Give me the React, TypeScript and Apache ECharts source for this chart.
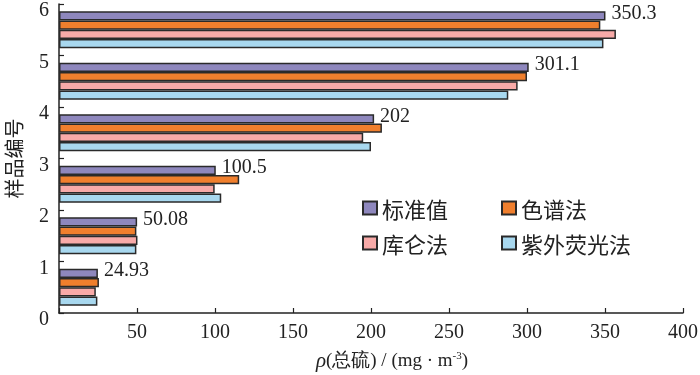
import React, { useEffect, useRef } from "react";
import * as echarts from "echarts";

const categories = ["1", "2", "3", "4", "5", "6"];
const seriesNames = ["标准值", "色谱法", "库仑法", "紫外荧光法"];
const standardValues = [24.93, 50.08, 100.5, 202, 301.1, 350.3];
const chromatographyValues = [25.6, 49.6, 115.5, 207, 300, 347];
const coulometricValues = [23.6, 50.3, 99.8, 195, 294, 357];
const uvFluorescenceValues = [24.6, 49.6, 104, 200, 288, 349];
const standardLabels = ["24.93", "50.08", "100.5", "202", "301.1", "350.3"];
const xTicks = [0, 50, 100, 150, 200, 250, 300, 350, 400];
const yTicks = [0, 1, 2, 3, 4, 5, 6];

const colors = ["#8e87bd", "#f07f2d", "#f8aaa8", "#a8d8ef"];
const allValues = [standardValues, chromatographyValues, coulometricValues, uvFluorescenceValues];

export default function App() {
  const ref = useRef<HTMLDivElement>(null);
  useEffect(() => {
    if (!ref.current) return;
    const chart = echarts.init(ref.current, undefined, { renderer: "svg" });
    const serif = "'Liberation Serif', 'Times New Roman', serif";
    const cjk = "'Noto Sans CJK SC', sans-serif";
    const legendBase = {
      orient: "horizontal",
      itemWidth: 14,
      itemHeight: 13,
      itemGap: 53,
      icon: "rect",
      textStyle: { fontFamily: cjk, fontSize: 22, color: "#222" },
    };
    chart.setOption({
      animation: false,
      grid: { left: 59, right: 17, top: 4, bottom: 62, containLabel: false, outerBoundsMode: "none" },
      legend: [
        { ...legendBase, data: seriesNames.slice(0, 2), left: 357, top: 192 },
        { ...legendBase, data: seriesNames.slice(2, 4), left: 357, top: 227 },
      ],
      xAxis: {
        type: "value",
        min: xTicks[0],
        max: xTicks[xTicks.length - 1],
        interval: 50,
        axisLine: { show: true, lineStyle: { color: "#222", width: 1.5 } },
        axisTick: { show: true, inside: true, length: 5, lineStyle: { color: "#222", width: 1.2 } },
        splitLine: { show: false },
        axisLabel: {
          fontFamily: serif,
          fontSize: 20,
          color: "#222",
          margin: 8,
          formatter: (v: number) => (v === 0 ? "" : String(v)),
        },
        name: "{i|ρ}(总硫) / (mg · m{sup|-3})",
        nameLocation: "middle",
        nameGap: 36,
        nameTextStyle: {
          fontFamily: serif,
          fontSize: 19,
          color: "#222",
          padding: [0, 0, 0, 42],
          rich: {
            i: { fontFamily: serif, fontStyle: "italic", fontSize: 21, color: "#222" },
            sup: { fontFamily: serif, fontSize: 11, color: "#222", verticalAlign: "top", padding: [0, 0, 10, 0] },
          },
        },
      },
      yAxis: [
        {
          type: "category",
          data: categories,
          axisLine: { show: false },
          axisTick: { show: false },
          axisLabel: { show: false },
          splitLine: { show: false },
        },
        {
          type: "value",
          position: "left",
          min: yTicks[0],
          max: yTicks[yTicks.length - 1],
          interval: 1,
          axisLine: { show: true, onZero: false, lineStyle: { color: "#222", width: 1.5 } },
          axisTick: { show: true, inside: true, length: 5, lineStyle: { color: "#222", width: 1.2 } },
          splitLine: { show: false },
          axisLabel: {
            fontFamily: serif,
            fontSize: 20,
            color: "#222",
            margin: 10,
            verticalAlign: "top",
            lineHeight: 10,
          },
          name: "样品编号",
          nameLocation: "middle",
          nameRotate: 90,
          nameGap: 36,
          nameTextStyle: { fontFamily: cjk, fontSize: 20, color: "#222" },
        },
      ],
      series: seriesNames.map((name, i) => ({
        name,
        type: "bar",
        yAxisIndex: 0,
        data: allValues[i],
        barGap: "0%",
        barCategoryGap: "28%",
        itemStyle: { color: colors[i], borderColor: "#2a2a2a", borderWidth: 1.5 },
        label:
          i === 0
            ? {
                show: true,
                position: "right",
                distance: 6,
                offset: [0, -4],
                fontFamily: serif,
                fontSize: 20,
                color: "#222",
                formatter: (p: any) => standardLabels[p.dataIndex],
              }
            : { show: false },
      })),
    });
    return () => chart.dispose();
  }, []);
  return <div ref={ref} style={{ position: "fixed", left: 0, top: 0, width: 700, height: 375 }} />;
}
